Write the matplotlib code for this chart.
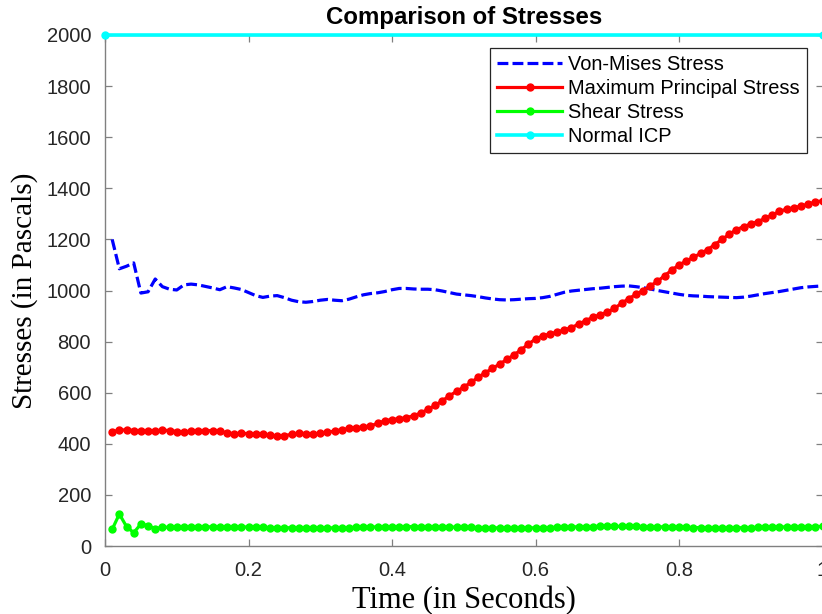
import matplotlib
matplotlib.use("Agg")
import matplotlib.pyplot as plt
import numpy as np

# sample times (s), 100 steps of 0.01
time = np.linspace(0.01, 1.0, 100)

von_mises = [
    1200, 1085, 1095, 1108, 990, 995, 1045, 1015, 1005, 1002,
    1022, 1025, 1022, 1016, 1010, 1003, 1015, 1010, 1004, 992,
    980, 973, 978, 980, 972, 962, 956, 954, 957, 962,
    965, 962, 960, 966, 975, 983, 988, 991, 996, 1003,
    1008, 1008, 1006, 1005, 1005, 1003, 998, 992, 986, 983,
    980, 976, 971, 967, 964, 963, 964, 966, 968, 969,
    972, 977, 985, 993, 998, 1001, 1004, 1007, 1009, 1012,
    1015, 1017, 1018, 1015, 1011, 1006, 1000, 995, 990, 985,
    981, 979, 978, 976, 975, 974, 973, 972, 974, 978,
    983, 988, 992, 996, 1001, 1006, 1011, 1014, 1016, 1018,
]

max_principal = [
    447, 453, 455, 452, 450, 449, 451, 453, 452, 448,
    447, 449, 451, 452, 451, 450, 442, 440, 441, 440,
    438, 437, 434, 430, 432, 437, 441, 440, 438, 441,
    445, 450, 455, 460, 463, 466, 470, 480, 490, 495,
    498, 502, 510, 520, 535, 550, 568, 588, 605, 622,
    640, 660, 678, 695, 712, 730, 748, 768, 790, 810,
    822, 830, 837, 845, 855, 868, 882, 895, 905, 915,
    930, 950, 968, 985, 1000, 1018, 1036, 1058, 1080, 1100,
    1115, 1130, 1145, 1160, 1180, 1200, 1220, 1238, 1250, 1260,
    1270, 1282, 1295, 1310, 1318, 1324, 1330, 1338, 1346, 1352,
]

shear = [
    65, 125, 76, 52, 86, 80, 67, 74, 73, 74,
    74, 75, 75, 75, 75, 74, 75, 75, 75, 74,
    73, 73, 72, 72, 72, 71, 70, 70, 71, 71,
    71, 71, 71, 72, 73, 74, 74, 75, 75, 75,
    76, 76, 76, 76, 76, 75, 75, 74, 74, 73,
    73, 72, 72, 71, 71, 71, 71, 71, 71, 71,
    72, 72, 73, 74, 75, 75, 76, 76, 77, 77,
    77, 77, 77, 77, 76, 76, 75, 75, 74, 73,
    73, 72, 72, 71, 71, 71, 71, 71, 72, 72,
    73, 73, 74, 74, 75, 75, 76, 76, 76, 77,
]

icp_time = [0, 1]
normal_icp = [2000, 2000]

x_ticks = [0, 0.2, 0.4, 0.6, 0.8, 1]
y_ticks = list(range(0, 2001, 200))

sans = ['Liberation Sans', 'DejaVu Sans']
serif = ['Liberation Serif', 'DejaVu Serif']

fig = plt.figure(figsize=(8.22, 6.14), dpi=100)
ax = fig.add_axes([105 / 822, 68 / 614, 717.5 / 822, 511 / 614])

ax.plot(time, von_mises, color='#0000ff', lw=2.3, dashes=(3.4, 1.3),
        label='Von-Mises Stress')
ax.plot(time, max_principal, color='#ff0000', lw=2.3, marker='o', ms=5,
        label='Maximum Principal Stress')
ax.plot(time, shear, color='#00ff00', lw=2.3, marker='o', ms=5,
        label='Shear Stress')
ax.plot(icp_time, normal_icp, color='#00ffff', lw=2.6, marker='o', ms=5,
        label='Normal ICP', clip_on=False, zorder=5)

ax.set_xlim(0, 1)
ax.set_ylim(0, 2000)
ax.set_xticks(x_ticks)
ax.set_xticklabels(['%g' % v for v in x_ticks])
ax.set_yticks(y_ticks)

for s in ax.spines.values():
    s.set_color('#808080')
    s.set_linewidth(1.0)
ax.tick_params(direction='in', length=5, width=0.9, color='#808080',
               labelcolor='#262626', labelsize=14.5, top=True, right=True)
ax.tick_params(axis='x', pad=11)
ax.tick_params(axis='y', pad=10)
for lab in ax.get_xticklabels() + ax.get_yticklabels():
    lab.set_family(sans)

ax.set_title('Comparison of Stresses', family=sans, fontsize=17.3,
             fontweight='bold', pad=8)
ax.set_xlabel('Time (in Seconds)', family=serif, fontsize=22, labelpad=4)
ax.set_ylabel('Stresses (in Pascals)', family=serif, fontsize=21, labelpad=6)

leg = ax.legend(loc='upper right', bbox_to_anchor=(0.9784, 0.9746),
                borderaxespad=0, prop={'family': sans, 'size': 14.4},
                handlelength=3.25, handletextpad=0.3, labelspacing=0.24,
                borderpad=0.36, fancybox=False, framealpha=1)
leg.get_frame().set_edgecolor('#262626')
leg.get_frame().set_linewidth(0.9)

fig.savefig('out.png', dpi=100)
